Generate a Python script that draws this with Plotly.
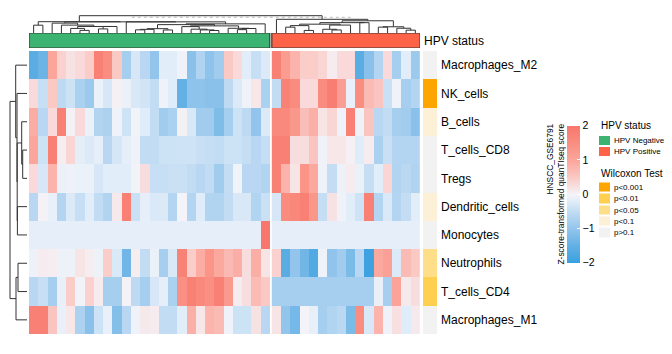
import numpy as np
import plotly.graph_objects as go

W, H = 672, 354
FONT = "Liberation Sans, Arial, sans-serif"

# ---------------- data ----------------
cell_types = ["Macrophages_M2", "NK_cells", "B_cells", "T_cells_CD8", "Tregs",
              "Dendritic_cells", "Monocytes", "Neutrophils", "T_cells_CD4", "Macrophages_M1"]

# z-scores, rows = cell_types, columns = samples (dendrogram order)
hpv_negative_scores = [
    [-1.6, -1.4, 1.0, 0.4, 0.2, 0.3, 0.45, 1.8, 1.5, 0.5, -0.8, -0.3, -0.6, -1.0, -0.2, -0.2, -0.05, -1.1, -0.7, -1.05, -0.85, 0.5, 0.3, -0.2, -0.45, -0.25],
    [0.3, -0.45, 0.5, -0.55, -0.4, -0.75, -0.9, -0.1, -0.3, 0.05, -0.08, -0.28, -0.35, -0.5, -0.05, -0.22, -1.5, -1.05, -1.05, -1.1, -1.1, -0.55, -0.25, -0.05, 0.15, -0.75],
    [0.9, -0.6, 0.3, 1.8, 0.03, 0.3, -0.1, -0.68, -0.72, -0.05, -0.37, -0.04, -0.22, -0.5, -0.85, -0.75, 0.03, -0.28, -0.85, -0.85, -1.2, -0.8, -0.4, -0.55, -1.0, -0.25],
    [1.0, -0.4, 1.8, 0.08, 0.35, -0.18, -0.25, -0.15, -0.6, -0.32, -0.15, -0.05, -0.5, -0.5, -0.4, -0.4, -0.37, -0.37, -0.43, -0.47, -0.5, -0.4, -0.4, -0.47, -0.6, -0.47],
    [0.3, -0.3, 0.8, -0.08, -0.06, -0.1, -0.1, -0.3, -0.2, -0.2, -0.2, -0.03, 0.25, -0.45, -0.45, -0.42, -0.42, -0.5, -0.6, -0.5, -0.85, -0.48, -0.04, -0.6, -0.6, -0.68],
    [-0.6, 0.02, -0.12, -0.65, -0.25, -0.45, -0.2, -0.5, -0.68, 0.12, 1.8, -0.42, -0.15, -0.27, -0.25, -0.65, 0.0, -0.65, -0.22, -0.68, -0.68, -0.5, -0.28, -0.28, -0.68, -0.42],
    [-0.15, -0.15, -0.15, -0.15, -0.15, -0.15, -0.15, -0.15, -0.15, -0.15, -0.15, -0.15, -0.15, -0.15, -0.15, -0.15, -0.15, -0.15, -0.15, -0.15, -0.15, -0.15, -0.15, -0.15, -0.15, 2.0],
    [-0.07, 0.1, 0.08, -0.07, -0.07, 0.18, 0.08, -0.07, 0.45, -0.27, -1.35, 0.08, -0.5, -0.1, -0.8, -0.28, 1.75, 0.45, 0.9, 1.35, 0.95, 0.72, 0.87, 0.25, 0.87, 0.17],
    [-0.6, -0.45, -0.8, -0.12, 0.45, -0.04, 0.4, 0.1, -0.8, -0.8, 0.02, -0.55, -0.8, -0.3, -0.15, -0.75, 1.45, 1.8, 1.6, 1.45, 1.8, 1.25, 0.1, 0.25, 0.7, 0.5],
    [1.8, 1.8, 0.55, -0.12, 0.15, -0.72, -1.1, -0.4, -0.12, -1.15, -0.6, -0.05, 0.12, 0.1, -0.5, -0.5, -0.2, 0.85, 0.15, 0.78, 0.7, -0.05, -0.4, -0.4, 0.2, -0.6],
]
hpv_positive_scores = [
    [1.8, 1.2, 0.8, 0.45, 0.45, 0.35, 0.1, 0.3, 0.3, -1.6, -1.1, -0.65, 0.3, -0.8, -0.2, -0.9],
    [-0.5, 1.75, 1.55, 0.3, 0.3, 1.55, 1.85, 1.15, -0.12, 1.5, 0.7, 0.55, -0.42, -0.05, -0.8, -0.65],
    [1.6, 1.6, 1.3, 0.65, 0.85, 0.18, 0.35, -0.05, 1.8, -0.05, 0.55, -0.6, -0.5, -0.8, -0.85, -1.1],
    [1.8, 1.8, 0.25, 0.25, 0.55, -0.05, 0.15, 0.15, 0.05, -0.22, 0.1, -0.75, -0.43, -0.65, -0.65, -0.65],
    [1.8, 0.8, 0.17, 1.35, 0.95, -0.05, -0.48, -0.06, 0.1, -0.1, -0.47, -0.2, 0.35, -0.68, -0.58, -0.7],
    [-0.3, 1.55, 1.65, 1.8, 1.3, -0.47, 0.2, -0.05, -0.2, -0.37, 1.8, -0.65, -0.27, -0.65, -0.48, -0.2],
    [-0.15, -0.15, -0.15, -0.15, -0.15, -0.15, -0.15, -0.15, -0.15, -0.15, -0.15, -0.15, -0.15, -0.15, -0.15, -0.15],
    [0.4, -1.6, -1.0, -1.35, -1.7, -0.05, -1.02, -0.85, -1.25, -0.6, -1.95, 0.95, 1.1, -0.25, 0.7, 0.5],
    [-0.8, -0.8, -0.8, -0.8, -0.8, -0.8, -0.8, -0.8, -0.8, -0.8, -0.8, -0.12, -0.8, 1.05, 0.12, 0.25],
    [0.17, -1.0, -1.3, 0.0, -0.13, -0.8, -0.68, -0.58, -1.25, 1.5, -0.28, 0.8, -0.05, 0.22, -0.22, 0.12],
]

hpv_groups = ["HPV Negative", "HPV Positive"]
hpv_colors = ["#3CB371", "#FF6347"]

wilcoxon_levels = ["p<0.001", "p<0.01", "p<0.05", "p<0.1", "p>0.1"]
wilcoxon_colors = ["#FFA500", "#FFD04F", "#FFDE8A", "#FCF0D6", "#F2F2F2"]
wilcoxon_class = ["p>0.1", "p<0.001", "p<0.1", "p>0.1", "p>0.1",
                  "p<0.1", "p>0.1", "p<0.05", "p<0.01", "p>0.1"]

colorbar_ticks = [-2, -1, 0, 1, 2]

# row dendrogram (scipy-style: leaves 0..9, merged nodes 10..), heights
row_merges = [(3, 4, 4.3), (2, 10, 5.3), (5, 6, 9.6), (11, 12, 9.8), (1, 13, 10.0),
              (0, 14, 11.3), (7, 8, 9.0), (16, 9, 11.0), (15, 17, 17.0)]

# ---------------- helpers ----------------
def fx(p):
    return p / W


def fy(p):
    return 1 - p / H


def ordered_average_linkage(vectors):
    X = np.asarray(vectors, dtype=float)
    n = len(X)
    D = np.sqrt(((X[:, None, :] - X[None, :, :]) ** 2).sum(axis=2))
    members = [[i] for i in range(n)]
    ids = list(range(n))
    heights = [0.0] * n
    merges = []
    while len(members) > 1:
        dists = [D[np.ix_(members[i], members[i + 1])].mean() for i in range(len(members) - 1)]
        i = int(np.argmin(dists))
        a, b = ids[i], ids[i + 1]
        h = max(dists[i], heights[a], heights[b])
        merges.append((a, b, h))
        heights.append(h)
        members[i:i + 2] = [members[i] + members[i + 1]]
        ids[i:i + 2] = [n + len(merges) - 1]
    return merges


def dendro_segments(merges, leaf_pos, scale=1.0):
    pos = list(leaf_pos)
    hgt = [0.0] * len(leaf_pos)
    p_list, h_list = [], []
    for a, b, h in merges:
        h = h * scale
        p_list += [pos[a], pos[a], pos[b], pos[b], None]
        h_list += [hgt[a], h, h, hgt[b], None]
        pos.append((pos[a] + pos[b]) / 2)
        hgt.append(h)
    return p_list, h_list, pos[-1], hgt[-1]


# ---------------- geometry ----------------
HM_L, HM_R, HM_T, HM_B = 29, 420, 51, 334
GAP = 0.216
n_neg = len(hpv_negative_scores[0])
n_pos = len(hpv_positive_scores[0])
neg_x = list(range(n_neg))
pos_x = [n_neg + GAP + j for j in range(n_pos)]
x_range = [-0.5, n_neg + GAP + n_pos - 0.5]
rows = list(range(len(cell_types)))

heat_scale = [
    [0.0, "#3AA0E0"], [0.125, "#62B0E4"], [0.25, "#93C5EC"], [0.375, "#C2DCF3"],
    [0.45, "#E1EDF9"], [0.5, "#F4F4F8"], [0.575, "#F9D9D9"], [0.625, "#FAC9C4"],
    [0.75, "#FBA59B"], [0.875, "#F98E80"], [1.0, "#F8766D"],
]

fig = go.Figure()

# main heatmap slices
fig.add_trace(go.Heatmap(z=hpv_negative_scores, x=neg_x, y=rows, coloraxis="coloraxis",
                         xaxis="x", yaxis="y", hoverinfo="skip"))
fig.add_trace(go.Heatmap(z=hpv_positive_scores, x=pos_x, y=rows, coloraxis="coloraxis",
                         xaxis="x", yaxis="y", hoverinfo="skip"))

# HPV status annotation bar
hpv_scale = [[0, hpv_colors[0]], [1, hpv_colors[1]]]
fig.add_trace(go.Heatmap(z=[[0] * n_neg], x=neg_x, y=[0], colorscale=hpv_scale, zmin=0, zmax=1,
                         showscale=False, xaxis="x", yaxis="y3", hoverinfo="skip"))
fig.add_trace(go.Heatmap(z=[[1] * n_pos], x=pos_x, y=[0], colorscale=hpv_scale, zmin=0, zmax=1,
                         showscale=False, xaxis="x", yaxis="y3", hoverinfo="skip"))

# Wilcoxon row annotation
wil_scale = [[i / 4, c] for i, c in enumerate(wilcoxon_colors)]
wil_codes = [[wilcoxon_levels.index(c)] for c in wilcoxon_class]
fig.add_trace(go.Heatmap(z=wil_codes, x=[0], y=rows, colorscale=wil_scale, zmin=0, zmax=4,
                         showscale=False, xaxis="x2", yaxis="y2", hoverinfo="skip"))

# column dendrograms
ROOT1, ROOT2, PARENT, DOTTED = 11.3, 13.7, 17.3, 15.7
m1 = ordered_average_linkage(np.array(hpv_negative_scores).T)
m2 = ordered_average_linkage(np.array(hpv_positive_scores).T)
p1, h1, r1x, r1h = dendro_segments(m1, neg_x, ROOT1 / m1[-1][2])
p2, h2, r2x, r2h = dendro_segments(m2, pos_x, ROOT2 / m2[-1][2])
cx = p1 + p2 + [r1x, r1x, r2x, r2x]
cy = h1 + h2 + [r1h, PARENT, PARENT, r2h]
fig.add_trace(go.Scatter(x=[10.6, 34.5], y=[DOTTED, DOTTED], mode="lines",
                         line=dict(color="#BDBDBD", width=1, dash="dot"),
                         xaxis="x", yaxis="y4", hoverinfo="skip"))
fig.add_trace(go.Scatter(x=cx, y=cy, mode="lines", line=dict(color="#333333", width=1),
                         xaxis="x", yaxis="y4", hoverinfo="skip"))

# row dendrogram
rp, rh, _, _ = dendro_segments(row_merges, rows)
fig.add_trace(go.Scatter(x=rh, y=rp, mode="lines", line=dict(color="#333333", width=1),
                         xaxis="x3", yaxis="y", hoverinfo="skip"))

# legend swatches
fig.add_trace(go.Heatmap(z=[[0], [1]], x=[0], y=[0, 1], colorscale=hpv_scale, zmin=0, zmax=1,
                         showscale=False, ygap=2, xaxis="x5", yaxis="y5", hoverinfo="skip"))
fig.add_trace(go.Heatmap(z=[[i] for i in range(5)], x=[0], y=list(range(5)), colorscale=wil_scale,
                         zmin=0, zmax=4, showscale=False, ygap=2, xaxis="x6", yaxis="y6",
                         hoverinfo="skip"))

# borders around HPV status slices
for x0, x1 in [(neg_x[0] - 0.5, neg_x[-1] + 0.5), (pos_x[0] - 0.5, pos_x[-1] + 0.5)]:
    fig.add_shape(type="rect", xref="x", yref="y3", x0=x0, x1=x1, y0=-0.5, y1=0.5,
                  line=dict(color="#3A3A3A", width=1.2), fillcolor="rgba(0,0,0,0)")

hidden = dict(visible=False, showgrid=False, zeroline=False, fixedrange=True)
label_axis = dict(showgrid=False, zeroline=False, showline=False, ticks="", side="right",
                  fixedrange=True)

fig.update_layout(
    width=W, height=H, margin=dict(l=0, r=0, t=0, b=0),
    paper_bgcolor="white", plot_bgcolor="white", showlegend=False,
    font=dict(family=FONT, color="black"),
    coloraxis=dict(
        cmin=-2, cmax=2, colorscale=heat_scale,
        colorbar=dict(
            x=fx(567), xanchor="left", y=fy(194.1), yanchor="middle",
            len=137, lenmode="pixels", thickness=13, thicknessmode="pixels",
            xpad=0, ypad=0, outlinewidth=0, tickvals=colorbar_ticks,
            ticks="inside", ticklen=3, tickcolor="white",
            tickfont=dict(family=FONT, size=10.5, color="black"),
        ),
    ),
    xaxis=dict(domain=[fx(HM_L), fx(HM_R)], range=x_range, anchor="y", **hidden),
    yaxis=dict(domain=[fy(HM_B), fy(HM_T)], range=[9.5, -0.5], anchor="x", **hidden),
    xaxis2=dict(domain=[fx(423), fx(437)], range=[-0.5, 0.5], anchor="y2", **hidden),
    yaxis2=dict(domain=[fy(HM_B), fy(HM_T)], range=[9.5, -0.5], anchor="x2",
                tickvals=rows, ticktext=cell_types, ticklabelstandoff=3,
                tickfont=dict(family=FONT, size=12, color="black"), **label_axis),
    yaxis3=dict(domain=[fy(48), fy(33)], range=[-0.5, 0.5], anchor="x",
                tickvals=[0], ticktext=["HPV status"], ticklabelstandoff=3,
                tickfont=dict(family=FONT, size=12, color="black"), **label_axis),
    yaxis4=dict(domain=[fy(33), fy(13)], range=[0, 20], anchor="x", **hidden),
    xaxis3=dict(domain=[fx(9), fx(27)], range=[18, 0], anchor="y", **hidden),
    xaxis5=dict(domain=[fx(599), fx(610)], range=[-0.5, 0.5], anchor="y5", **hidden),
    yaxis5=dict(domain=[fy(157), fy(135)], range=[1.5, -0.5], anchor="x5",
                tickvals=[0, 1], ticktext=hpv_groups, ticklabelstandoff=3,
                tickfont=dict(family=FONT, size=8, color="black"), **label_axis),
    xaxis6=dict(domain=[fx(599), fx(610)], range=[-0.5, 0.5], anchor="y6", **hidden),
    yaxis6=dict(domain=[fy(238), fy(181.5)], range=[4.5, -0.5], anchor="x6",
                tickvals=list(range(5)), ticktext=wilcoxon_levels, ticklabelstandoff=3,
                tickfont=dict(family=FONT, size=8, color="black"), **label_axis),
    annotations=[
        dict(text="HNSCC_GSE6791", textangle=-90, xref="paper", yref="paper",
             x=fx(549), y=fy(122), xanchor="center", yanchor="top", showarrow=False,
             font=dict(family=FONT, size=8.4, color="black")),
        dict(text="Z-score-transformed quanTIseq score", textangle=-90, xref="paper", yref="paper",
             x=fx(560), y=fy(122), xanchor="center", yanchor="top", showarrow=False,
             font=dict(family=FONT, size=8.4, color="black")),
        dict(text="HPV status", xref="paper", yref="paper", x=fx(599), y=fy(126),
             xanchor="left", yanchor="middle", showarrow=False,
             font=dict(family=FONT, size=10, color="black")),
        dict(text="Wilcoxon Test", xref="paper", yref="paper", x=fx(599), y=fy(173),
             xanchor="left", yanchor="middle", showarrow=False,
             font=dict(family=FONT, size=10, color="black")),
    ],
)

fig.write_html("out.html")
